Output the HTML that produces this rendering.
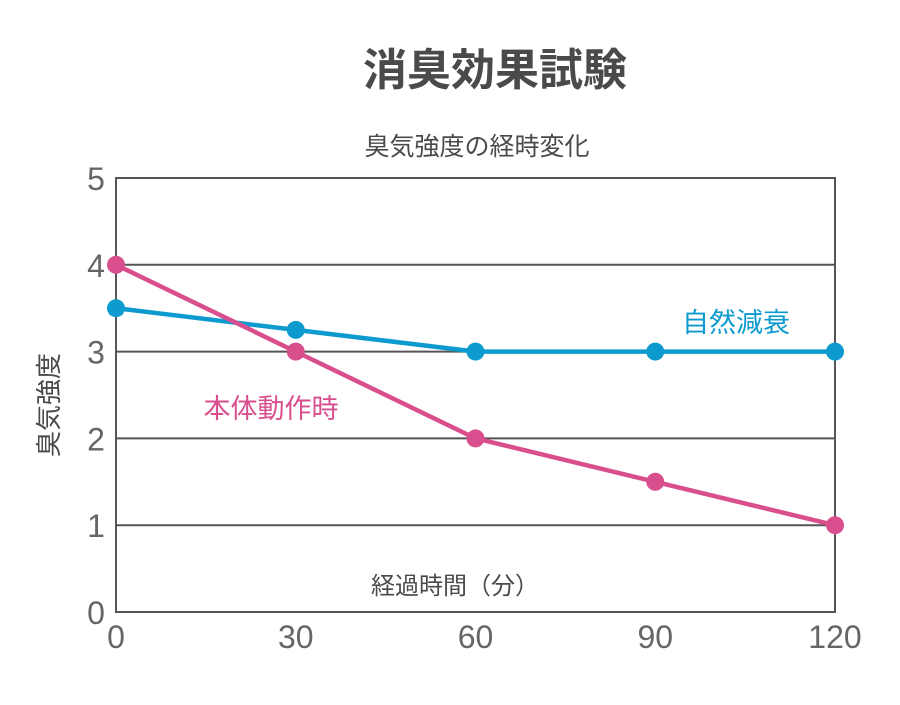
<!DOCTYPE html>
<html><head><meta charset="utf-8"><style>
body{margin:0;background:#fff;}
svg text{font-family:"Liberation Sans","Noto Sans CJK JP",sans-serif;}
</style></head><body>
<svg width="900" height="700" viewBox="0 0 900 700" xmlns="http://www.w3.org/2000/svg">
<rect width="900" height="700" fill="#fff"/>
<text x="495" y="85" text-anchor="middle" font-size="44" font-weight="bold" fill="#4a4a4a">消臭効果試験</text>
<text x="477" y="155" text-anchor="middle" font-size="25" fill="#4a4a4a">臭気強度の経時変化</text>
<g id="grid"></g>
<g id="axes"></g>
<g id="series"></g>
<text transform="translate(58,405) rotate(-90)" text-anchor="middle" font-size="26" fill="#4a4a4a">臭気強度</text>
<text x="455" y="594" text-anchor="middle" font-size="24" fill="#4a4a4a">経過時間（分）</text>
<text x="736" y="332" text-anchor="middle" font-size="27" fill="#0d9bcf">自然減衰</text>
<text x="271" y="418" text-anchor="middle" font-size="27" fill="#d94f8e">本体動作時</text>
</svg>
<script>
const categories=[0,30,60,90,120];
const naturalValues=[3.5,3.25,3,3,3];
const deviceValues=[4,3,2,1.5,1];
const yTicks=[0,1,2,3,4,5];
const x0=116,x1=835,y0=612,y1=178;
const xs=v=>x0+(v-0)/(120-0)*(x1-x0);
const ys=v=>y0-(v/5)*(y0-y1);
const NS="http://www.w3.org/2000/svg";
function mk(t,a,p){const e=document.createElementNS(NS,t);for(const k in a)e.setAttribute(k,a[k]);p.appendChild(e);return e;}
const grid=document.getElementById('grid'),axes=document.getElementById('axes'),ser=document.getElementById('series');
yTicks.forEach(v=>{
 if(v>0&&v<5){const l=mk('line',{x1:x0,x2:x1,y1:ys(v),y2:ys(v),stroke:'#555','stroke-width':2},grid);
 
 }
 const t=mk('text',{x:96,y:ys(v)+12,'text-anchor':'middle','font-size':32,fill:'#666'},axes);t.textContent=v;
 
 
});
categories.forEach(c=>{
 const t=mk('text',{x:xs(c),y:648,'text-anchor':'middle','font-size':32,fill:'#666'},axes);t.textContent=c;
 
 
});
const frame=mk('rect',{x:x0,y:y1,width:x1-x0,height:y0-y1,fill:'none',stroke:'#555','stroke-width':2},axes);


function draw(vals,color,name){
 const pts=categories.map((c,i)=>xs(c)+','+ys(vals[i])).join(' ');
 const pl=mk('polyline',{points:pts,fill:'none',stroke:color,'stroke-width':4.5},ser);
 
 
 categories.forEach((c,i)=>{
  const p=mk('circle',{cx:xs(c),cy:ys(vals[i]),r:9,fill:color},ser);
  
  
 });
}
draw(naturalValues,'#0d9bcf','natural-decay');
draw(deviceValues,'#d94f8e','device-on');
</script>
</body></html>
